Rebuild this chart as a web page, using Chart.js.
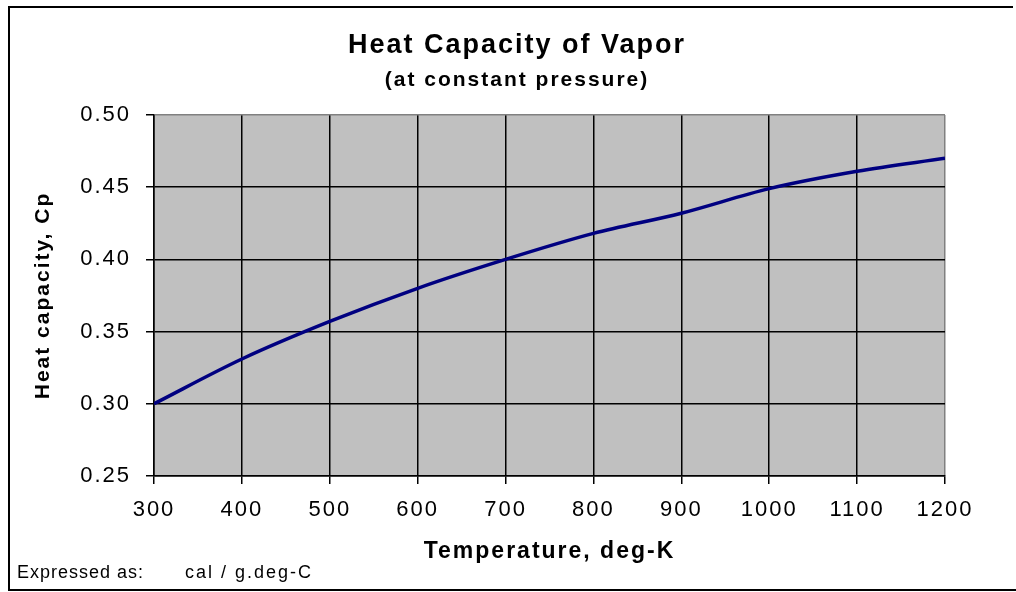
<!DOCTYPE html>
<html>
<head>
<meta charset="utf-8">
<script src="https://cdn.jsdelivr.net/npm/chart.js@4.4.1/dist/chart.umd.min.js"></script>
<style>
  html, body { margin: 0; padding: 0; background: #ffffff; }
  #wrap { width: 1016px; height: 592px; position: relative; }
  canvas { display: block; }
</style>
</head>
<body>
<div id="wrap"><canvas id="c" width="1016" height="592"></canvas></div>
<script>
// ---- data ----
const temperatures = [300, 400, 500, 600, 700, 800, 900, 1000, 1100, 1200];
const heatCapacity = [0.300, 0.331, 0.357, 0.380, 0.400, 0.418, 0.432, 0.449, 0.461, 0.470];
const xTicks = [300, 400, 500, 600, 700, 800, 900, 1000, 1100, 1200];
const yTicks = [0.25, 0.30, 0.35, 0.40, 0.45, 0.50];
const titleText = 'Heat Capacity of Vapor';
const subtitleText = '(at constant pressure)';
const xTitle = 'Temperature, deg-K';
const yTitle = 'Heat capacity, Cp';
const noteLabel = 'Expressed as:';
const noteUnit = 'cal / g.deg-C';

const FONT = '"Liberation Sans", Arial, sans-serif';

const decorPlugin = {
  id: 'decor',
  beforeDraw(chart) {
    const ctx = chart.ctx;
    ctx.letterSpacing = '2px';
    const a = chart.chartArea;
    ctx.save();
    ctx.fillStyle = '#c0c0c0';
    ctx.fillRect(a.left, a.top, a.right - a.left, a.bottom - a.top);
    ctx.restore();
  },
  afterDraw(chart) {
    const ctx = chart.ctx;
    ctx.save();
    // outer frame
    ctx.strokeStyle = '#000';
    ctx.lineWidth = 2;
    ctx.beginPath();
    ctx.moveTo(1013, 7);
    ctx.lineTo(9, 7);
    ctx.lineTo(9, 590);
    ctx.lineTo(1016, 590);
    ctx.stroke();
    // titles
    ctx.fillStyle = '#000';
    ctx.textAlign = 'center';
    ctx.textBaseline = 'alphabetic';
    ctx.letterSpacing = '2px';
    ctx.font = 'bold 27px ' + FONT;
    ctx.fillText(titleText, 517, 53);
    ctx.font = 'bold 21px ' + FONT;
    ctx.fillText(subtitleText, 517, 86);
    // note
    ctx.textAlign = 'left';
    ctx.font = '18px ' + FONT;
    ctx.letterSpacing = '1px';
    ctx.fillText(noteLabel, 17, 578);
    ctx.letterSpacing = '2px';
    ctx.fillText(noteUnit, 185, 578);
    ctx.restore();
  }
};

new Chart(document.getElementById('c'), {
  type: 'line',
  data: {
    datasets: [{
      data: temperatures.map((t, i) => ({ x: t, y: heatCapacity[i] })),
      borderColor: '#000080',
      borderWidth: 3.5,
      pointRadius: 0,
      fill: false,
      cubicInterpolationMode: 'monotone'
    }]
  },
  options: {
    responsive: false,
    animation: false,
    devicePixelRatio: 1,
    layout: { padding: { left: 0, right: 71, top: 115, bottom: 0 } },
    plugins: { legend: { display: false }, tooltip: { enabled: false }, title: { display: false } },
    scales: {
      x: {
        type: 'linear',
        min: 300, max: 1200,
        afterFit(s) { s.height = 116; },
        afterBuildTicks(s) { s.ticks = xTicks.map(v => ({ value: v })); },
        ticks: {
          color: '#000',
          font: { family: FONT, size: 22 },
          padding: 13,
          maxRotation: 0,
          autoSkip: false,
          callback: v => String(v)
        },
        grid: {
          color: c => (c.tick && c.tick.value === 1200) ? '#808080' : '#000',
          tickColor: '#000',
          lineWidth: 1.5,
          tickLength: 8,
          drawTicks: true
        },
        border: { display: true, color: '#000', width: 1.5 },
        title: {
          display: true,
          text: xTitle,
          color: '#000',
          font: { family: FONT, size: 23, weight: 'bold' },
          padding: { top: 0, bottom: 27 }
        }
      },
      y: {
        type: 'linear',
        min: 0.25, max: 0.50,
        afterFit(s) { s.width = 154; },
        afterBuildTicks(s) { s.ticks = yTicks.map(v => ({ value: v })); },
        ticks: {
          color: '#000',
          font: { family: FONT, size: 22 },
          padding: 15,
          autoSkip: false,
          callback: v => Number(v).toFixed(2)
        },
        grid: {
          color: c => (c.tick && Math.abs(c.tick.value - 0.5) < 1e-9) ? '#808080' : '#000',
          tickColor: '#000',
          lineWidth: 1.5,
          tickLength: 8,
          drawTicks: true
        },
        border: { display: true, color: '#000', width: 1.5 },
        title: {
          display: true,
          text: yTitle,
          color: '#000',
          font: { family: FONT, size: 21, weight: 'bold' },
          padding: { top: 31, bottom: 0 }
        }
      }
    }
  },
  plugins: [decorPlugin]
});
</script>
</body>
</html>
